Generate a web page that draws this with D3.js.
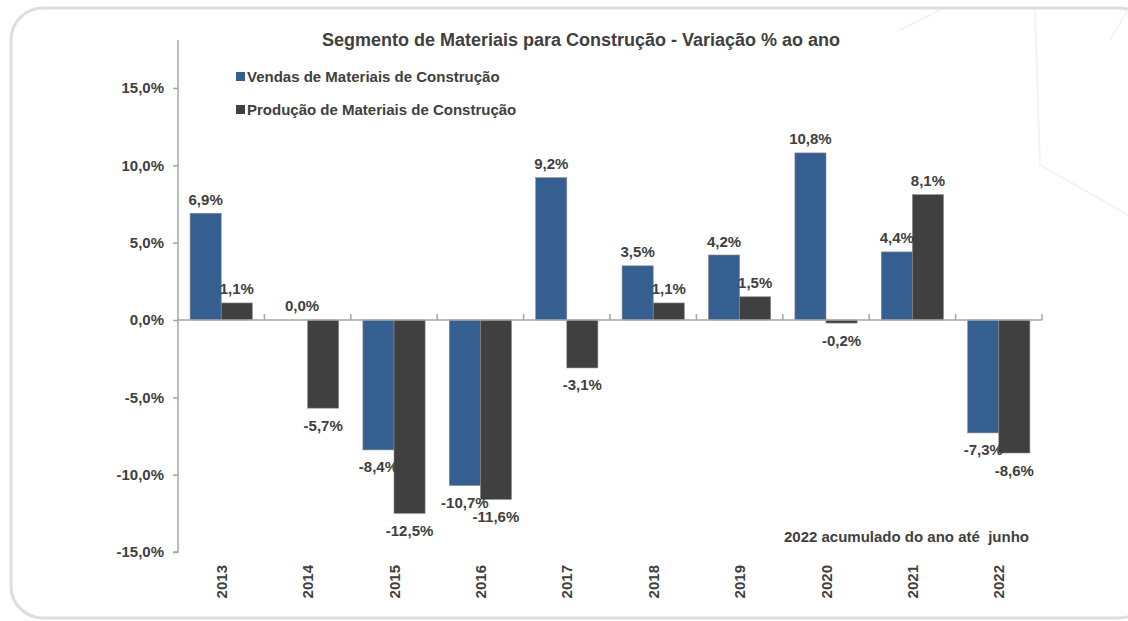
<!DOCTYPE html>
<html lang="pt">
<head>
<meta charset="utf-8">
<title>Materiais para Construção</title>
<script src="https://d3js.org/d3.v7.min.js"></script>
<style>
body { margin: 0; background: #fff; }
text { font-family: "Liberation Sans", Arial, sans-serif; font-weight: bold; fill: #404040; }
</style>
</head>
<body>
<div id="chart"></div>
<script>
var w = 1128, h = 621;

// data
var years = ["2013", "2014", "2015", "2016", "2017", "2018", "2019", "2020", "2021", "2022"];
var vendas = [6.9, 0.0, -8.4, -10.7, 9.2, 3.5, 4.2, 10.8, 4.4, -7.3];
var producao = [1.1, -5.7, -12.5, -11.6, -3.1, 1.1, 1.5, -0.2, 8.1, -8.6];
var seriesNames = ["Vendas de Materiais de Construção", "Produção de Materiais de Construção"];
var yTicks = [-15, -10, -5, 0, 5, 10, 15];
var colors = ["#355f91", "#404040"];

function pct(d) {
  return (d < 0 ? "-" : "") + Math.abs(d).toFixed(1).replace(".", ",") + "%";
}

var svg = d3.select("#chart").append("svg").attr("width", w).attr("height", h);

// panel
svg.append("rect").attr("x", 11).attr("y", 8).attr("width", 1140).attr("height", 610)
  .attr("rx", 32).attr("fill", "#fff").attr("stroke", "#dedede").attr("stroke-width", 3);

// faint decoration on the right
var deco = svg.append("g").attr("stroke", "#f3f3f3").attr("stroke-width", 2).attr("fill", "none");
deco.append("path").attr("d", "M1035 10 L1040 165 L1128 215");
deco.append("path").attr("d", "M1128 10 L1110 40");
deco.append("path").attr("d", "M940 10 L900 30");

var y = d3.scaleLinear().domain([-15, 18.1]).range([552, 40]);
var x0 = d3.scaleBand().domain(years).range([178, 1042]).padding(0);
var gw = x0.bandwidth() * 0.72;
var x1 = d3.scaleBand().domain([0, 1]).range([(x0.bandwidth() - gw) / 2, (x0.bandwidth() + gw) / 2]);

// y axis
var yAxis = svg.append("g").attr("transform", "translate(178,0)")
  .call(d3.axisLeft(y).tickValues(yTicks).tickSize(5).tickPadding(9).tickFormat(pct));
yAxis.select(".domain").attr("d", "M0," + y(18.1) + "V" + y(-15) + "H-5");
yAxis.selectAll("line, .domain").attr("stroke", "#a6a6a6").attr("stroke-width", 1.5);
yAxis.selectAll("text").attr("font-size", 15).attr("fill", "#404040")
  .style("font-family", "Liberation Sans, Arial, sans-serif").style("font-weight", "bold");

// bars
var rows = years.map(function(yr, i) { return { year: yr, vals: [vendas[i], producao[i]] }; });
var groups = svg.selectAll("g.grp").data(rows).enter().append("g").attr("class", "grp")
  .attr("transform", function(d) { return "translate(" + x0(d.year) + ",0)"; });

groups.selectAll("rect").data(function(d) { return d.vals; }).enter().append("rect")
  .attr("x", function(d, i) { return x1(i); })
  .attr("width", x1.bandwidth())
  .attr("y", function(d) { return y(Math.max(0, d)); })
  .attr("height", function(d) { return Math.abs(y(d) - y(0)); })
  .attr("fill", function(d, i) { return colors[i]; })
  .attr("stroke", "#8a8a8a").attr("stroke-width", 0.6);

groups.selectAll("text").data(function(d) { return d.vals; }).enter().append("text")
  .attr("x", function(d, i) { return x1(i) + x1.bandwidth() / 2 + (d === 0 ? 10 : 0); })
  .attr("y", function(d) { return d >= 0 ? y(d) - 8.5 : y(d) + 22.5; })
  .attr("text-anchor", "middle").attr("font-size", 15)
  .text(pct);

// x axis at zero
var xg = svg.append("g").attr("transform", "translate(0," + y(0) + ")");
xg.append("line").attr("x1", 178).attr("x2", 1042).attr("stroke", "#a6a6a6").attr("stroke-width", 1.5);
xg.selectAll("line.tk").data(years).enter().append("line").attr("class", "tk")
  .attr("x1", function(d) { return x0(d) + x0.bandwidth(); })
  .attr("x2", function(d) { return x0(d) + x0.bandwidth(); })
  .attr("y1", 0).attr("y2", -6).attr("stroke", "#a6a6a6").attr("stroke-width", 1.5);

// category labels, rotated
svg.selectAll("text.cat").data(years).enter().append("text").attr("class", "cat")
  .attr("transform", function(d) { return "translate(" + (x0(d) + x0.bandwidth() / 2 + 5.5) + ",565) rotate(-90)"; })
  .attr("text-anchor", "end").attr("font-size", 15).text(function(d) { return d; });

// title
svg.append("text").attr("x", 581).attr("y", 46).attr("text-anchor", "middle")
  .attr("font-size", 18).text("Segmento de Materiais para Construção - Variação % ao ano");

// legend
var leg = svg.selectAll("g.leg").data(seriesNames).enter().append("g").attr("class", "leg")
  .attr("transform", function(d, i) { return "translate(236," + (76 + i * 33) + ")"; });
leg.append("rect").attr("x", 0).attr("y", -4).attr("width", 9).attr("height", 9)
  .attr("fill", function(d, i) { return colors[i]; });
leg.append("text").attr("x", 11).attr("y", 5.5).attr("font-size", 15).text(function(d) { return d; });

// note
svg.append("text").attr("x", 1029).attr("y", 542).attr("text-anchor", "end")
  .attr("font-size", 15).style("white-space", "pre").text("2022 acumulado do ano até  junho");
</script>
</body>
</html>
